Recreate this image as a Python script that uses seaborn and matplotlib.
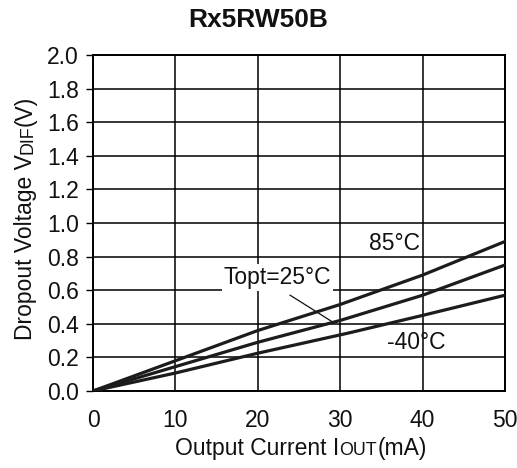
import numpy as np
import pandas as pd
import matplotlib
matplotlib.use("Agg")
import matplotlib.pyplot as plt
import seaborn as sns

# Data
current_ma = [0, 10, 20, 30, 40, 50]
vdif_85 = [0.0, 0.18, 0.36, 0.515, 0.69, 0.89]
vdif_25 = [0.0, 0.145, 0.29, 0.42, 0.57, 0.75]
current_m40 = [0, 10, 20, 31, 40, 50]
vdif_m40 = [0.0, 0.107, 0.225, 0.345, 0.45, 0.57]

series_names = ["85°C", "Topt=25°C", "-40°C"]
x_ticks = [0, 10, 20, 30, 40, 50]
y_ticks = [0.0, 0.2, 0.4, 0.6, 0.8, 1.0, 1.2, 1.4, 1.6, 1.8, 2.0]

df = pd.concat([
    pd.DataFrame({"I": current_ma, "V": vdif_85, "T": series_names[0]}),
    pd.DataFrame({"I": current_ma, "V": vdif_25, "T": series_names[1]}),
    pd.DataFrame({"I": current_m40, "V": vdif_m40, "T": series_names[2]}),
])

sns.set_theme(style="white")
plt.rcParams["font.family"] = ["Liberation Sans", "DejaVu Sans"]

W, H = 517, 468
fig = plt.figure(figsize=(W / 100, H / 100), dpi=100)
ax = fig.add_axes([93 / W, 1 - 391 / H, 412 / W, 336 / H])

sns.lineplot(data=df, x="I", y="V", hue="T", sort=False,
             palette=["#1c1c1c"] * 3, linewidth=2.3, legend=False, ax=ax,
             zorder=4)

FS = 16.5
TXT = "#111111"
ax.set_xlim(0, 50)
ax.set_ylim(0, 2.0)
ax.set_xticks(x_ticks)
ax.set_yticks(y_ticks)
ax.set_xticklabels([str(v) for v in x_ticks])
ax.set_yticklabels([f"{v:.1f}" for v in y_ticks])
ax.grid(True, color="black", linewidth=1.1)
ax.set_axisbelow(True)
for s in ax.spines.values():
    s.set_color("black")
    s.set_linewidth(1.4)
ax.tick_params(axis="y", which="both", left=True, length=5, width=1,
               color="black", labelsize=FS, pad=5, labelcolor=TXT)
ax.tick_params(axis="x", bottom=False, labelsize=FS, pad=7, labelcolor=TXT)
ax.set_xlabel("")
ax.set_ylabel("")

fig.text(0.5, 1 - 27 / H, "Rx5RW50B", fontsize=19, fontweight="bold",
         color=TXT, ha="center", va="baseline")

renderer = fig.canvas.get_renderer()


def mixed_text(pieces, center, base, vertical=False):
    """Draw text pieces of different sizes along one baseline, centred."""
    arts = []
    for s, fs in pieces:
        if vertical:
            t = fig.text(0, 0, s, fontsize=fs, color=TXT, rotation=90,
                         rotation_mode="anchor", ha="left", va="baseline")
        else:
            t = fig.text(0, 0, s, fontsize=fs, color=TXT, ha="left",
                         va="baseline")
        arts.append(t)
    lens = []
    for t in arts:
        bb = t.get_window_extent(renderer)
        lens.append(bb.height / H if vertical else bb.width / W)
    pos = center - sum(lens) / 2
    for t, L in zip(arts, lens):
        if vertical:
            t.set_position((base, pos))
        else:
            t.set_position((pos, base))
        pos += L


SMALL = FS * 0.78
mixed_text([("Output Current I", FS), ("OUT", SMALL), ("(mA)", FS)],
           center=301 / W, base=1 - 455 / H)
mixed_text([("Dropout Voltage V", FS), ("DIF", SMALL), ("(V)", FS)],
           center=1 - 218 / H, base=32 / W, vertical=True)

ax.text(36.6, 0.875, series_names[0], fontsize=FS, ha="center", va="center",
        color=TXT, zorder=5)
ax.text(22.4, 0.673, series_names[1], fontsize=FS, ha="center", va="center",
        color=TXT, zorder=5,
        bbox=dict(facecolor="white", edgecolor="none", pad=1.5))
ax.plot([23.9, 29.1], [0.571, 0.41], color=TXT, linewidth=0.9, zorder=3)
ax.text(39.2, 0.29, series_names[2], fontsize=FS, ha="center", va="center",
        color=TXT, zorder=5)

fig.savefig("out.png", dpi=100)
